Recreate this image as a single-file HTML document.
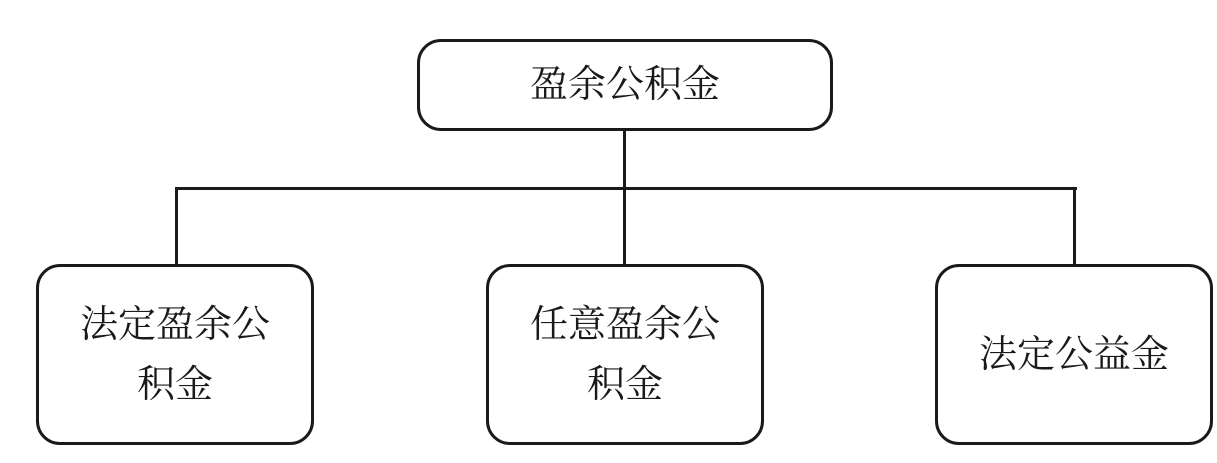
<!DOCTYPE html>
<html><head><meta charset="utf-8"><style>
html,body{margin:0;padding:0;background:#fff;}
body{width:1217px;height:463px;position:relative;overflow:hidden;font-family:"Liberation Serif","Noto Serif CJK SC",serif;}
.b{position:absolute;border:3px solid #1a1a1a;border-radius:24px;box-sizing:border-box;display:flex;align-items:center;justify-content:center;text-align:center;font-size:38px;line-height:60px;color:#1a1a1a;}
.l{position:absolute;background:#1a1a1a;}
</style></head><body>
<div class="l" style="left:623px;top:128px;width:3px;height:138px"></div>
<div class="l" style="left:175px;top:187px;width:902px;height:3px"></div>
<div class="l" style="left:175px;top:187px;width:3px;height:79px"></div>
<div class="l" style="left:1073px;top:187px;width:3px;height:79px"></div>
<div class="b" style="left:417px;top:39px;width:416px;height:92px">盈余公积金</div>
<div class="b" style="left:36px;top:264px;width:278px;height:181px">法定盈余公<br>积金</div>
<div class="b" style="left:486px;top:264px;width:278px;height:181px">任意盈余公<br>积金</div>
<div class="b" style="left:935px;top:264px;width:278px;height:181px">法定公益金</div>
</body></html>
